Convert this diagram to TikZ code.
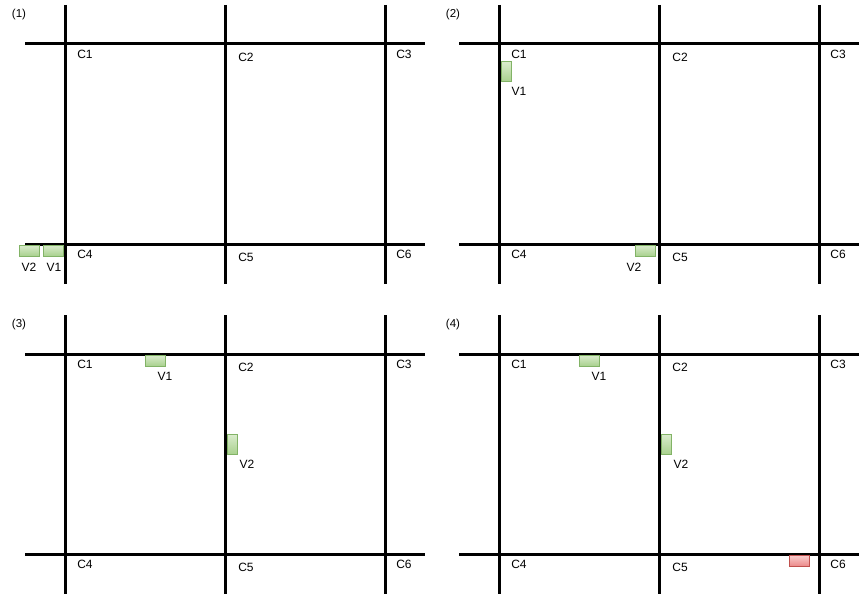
\documentclass[tikz,border=0pt]{standalone}
\usepackage{fontspec}
\setmainfont{Liberation Sans}
\usepackage{tikz}
\usetikzlibrary{positioning}
\definecolor{carfill}{HTML}{A9D18E}
\definecolor{cartop}{HTML}{DAECCD}
\definecolor{carline}{HTML}{82B366}
\definecolor{crashfill}{HTML}{EC8A8A}
\definecolor{crashtop}{HTML}{F9CFCF}
\definecolor{crashline}{HTML}{C0504D}

\begin{document}
\begin{tikzpicture}[
    x=1pt, y=-1pt,
    road/.style={line width=3pt, black},
    cross/.style={font=\fontsize{12}{14}\selectfont, inner sep=0pt},
    tag/.style={font=\fontsize{11.5}{13}\selectfont, inner sep=0pt},
    car/.style={draw=carline, top color=cartop, bottom color=carfill, minimum width=20pt, minimum height=11pt, inner sep=0pt},
    carup/.style={car, minimum width=10pt, minimum height=20pt},
    crash/.style={car, draw=crashline, top color=crashtop, bottom color=crashfill},
]
    \useasboundingbox (0,0) rectangle (865,599);

    % Road grid, one per panel
    \foreach \n/\dx/\dy in {1/0/0, 2/434/0, 3/0/310, 4/434/310} {
        \begin{scope}[shift={(\dx,\dy)}, name prefix=p\n-]
            \draw[road] (65,5) -- (65,284);
            \draw[road] (225,5) -- (225,284);
            \draw[road] (385,5) -- (385,284);
            \draw[road] (25,44) -- (425,44);
            \draw[road] (25,244) -- (425,244);
            \node[tag] (title) at (19,15) {(\n)};
            \node[cross] (c1) at (85,54) {C1};
            \node[cross] (c2) at (246,57) {C2};
            \node[cross] (c3) at (404,54) {C3};
            \node[cross] (c4) at (85,254) {C4};
            \node[cross] (c5) at (246,257) {C5};
            \node[cross] (c6) at (404,254) {C6};
        \end{scope}
    }

    % Panel 1
    \node[car] (v1a) at (53,250.5) {};
    \node[car] (v2a) at (29,250.5) {};
    \node[cross] (v1alabel) at (54,267) {V1};
    \node[cross] (v2alabel) at (29,267) {V2};

    % Panel 2
    \node[carup] (v1b) at (506,71.5) {};
    \node[car] (v2b) at (645,250.5) {};
    \node[cross] (v1blabel) at (519,91) {V1};
    \node[cross] (v2blabel) at (634,267) {V2};

    % Panel 3
    \node[car] (v1c) at (155,360.5) {};
    \node[carup] (v2c) at (232,444) {};
    \node[cross] (v1clabel) at (165,376) {V1};
    \node[cross] (v2clabel) at (247,464) {V2};

    % Panel 4
    \node[car] (v1d) at (589,360.5) {};
    \node[carup] (v2d) at (666,444) {};
    \node[crash] (hit) at (799,560.5) {};
    \node[cross] (v1dlabel) at (599,376) {V1};
    \node[cross] (v2dlabel) at (681,464) {V2};
\end{tikzpicture}
\end{document}
